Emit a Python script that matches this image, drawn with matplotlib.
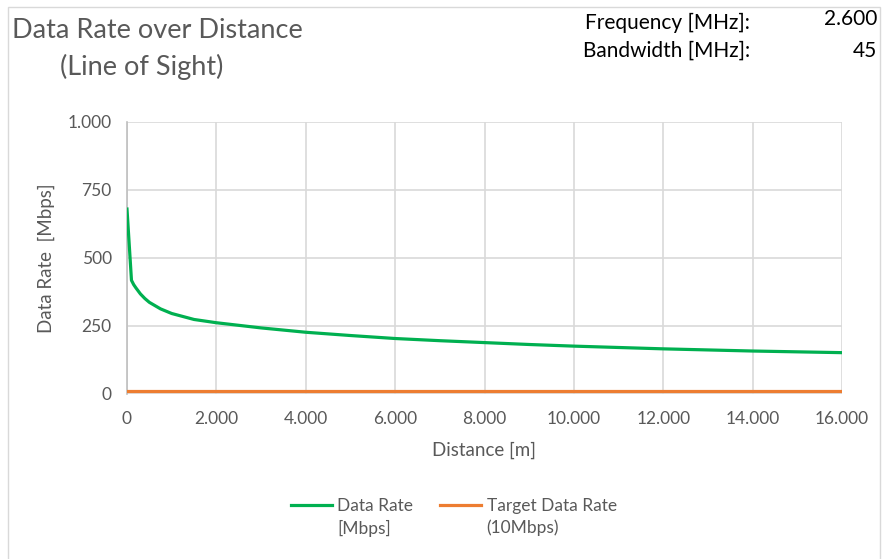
import matplotlib
matplotlib.use("Agg")
import matplotlib.pyplot as plt
from matplotlib.patches import Rectangle
from matplotlib.lines import Line2D
from matplotlib.ticker import FuncFormatter

plt.rcParams['font.family'] = ['Lato', 'DejaVu Sans']

# Data rate over distance (line of sight)
distance_m = [0, 100, 150, 200, 300, 400, 500, 750, 1000, 1500, 2000, 3000,
              4000, 5000, 6000, 7000, 8000, 9000, 10000, 11000, 12000, 13000,
              14000, 15000, 16000]
data_rate_mbps = [680, 418, 402, 390, 368, 351, 337, 313, 296, 274, 262, 243,
                  227, 215, 204, 196, 189, 182, 176, 171, 166, 162, 158, 155,
                  152]
target_rate_mbps = [10] * len(distance_m)

x_ticks = [0, 2000, 4000, 6000, 8000, 10000, 12000, 14000, 16000]
y_ticks = [0, 250, 500, 750, 1000]

series_names = [("Data Rate", "[Mbps]"), ("Target Data Rate", "(10Mbps)")]

frequency_mhz = "2.600"
bandwidth_mhz = "45"

TEXT = "#595959"
GRID = "#d9d9d9"
GREEN = "#00b050"
ORANGE = "#ed7d31"

W, H = 883, 559
fig = plt.figure(figsize=(W / 100, H / 100), dpi=100)
fig.patch.set_facecolor("white")

# chart area border
fig.patches.append(Rectangle((8 / W, -0.01), (880 - 8) / W, 1 - 7 / H + 0.01,
                             transform=fig.transFigure, fill=False,
                             edgecolor="#d9d9d9", linewidth=1.0))

ax = fig.add_axes([127 / W, 1 - 394 / H, (842 - 127) / W, (394 - 122) / H])

ax.plot(distance_m, data_rate_mbps, color=GREEN, linewidth=2.3, zorder=3)
ax.plot(distance_m, target_rate_mbps, color=ORANGE, linewidth=2.3, zorder=3)

ax.set_xlim(0, 16000)
ax.set_ylim(0, 1000)
ax.set_xticks(x_ticks)
ax.set_yticks(y_ticks)

def thousands(v, pos):
    return f"{int(v):,}".replace(",", ".")

ax.xaxis.set_major_formatter(FuncFormatter(thousands))
ax.yaxis.set_major_formatter(FuncFormatter(thousands))

ax.grid(True, color=GRID, linewidth=1.2, zorder=0)
for side in ["top", "right", "bottom"]:
    ax.spines[side].set_visible(False)
ax.spines["left"].set_color("#bfbfbf")
ax.spines["left"].set_linewidth(1.2)
ax.tick_params(axis="both", length=0, colors=TEXT, labelsize=12.5)
ax.tick_params(axis="x", pad=12.5)
ax.tick_params(axis="y", pad=11)

ax.set_xlabel("Distance [m]", color=TEXT, fontsize=13.5, labelpad=10)
ax.set_ylabel("Data Rate  [Mbps]", color=TEXT, fontsize=13.5, labelpad=9)

# title
fig.text(157 / W, 1 - 30 / H, "Data Rate over Distance", color=TEXT,
         fontsize=19.5, ha="center", va="center")
fig.text(142 / W, 1 - 67 / H, "(Line of Sight)", color=TEXT,
         fontsize=19.5, ha="center", va="center")

# parameter box
fig.text(750 / W, 1 - 23 / H, "Frequency [MHz]:", color="black",
         fontsize=15, ha="right", va="center")
fig.text(877 / W, 1 - 19 / H, frequency_mhz, color="black",
         fontsize=15, ha="right", va="center")
fig.text(750 / W, 1 - 51 / H, "Bandwidth [MHz]:", color="black",
         fontsize=15, ha="right", va="center")
fig.text(877 / W, 1 - 51 / H, bandwidth_mhz, color="black",
         fontsize=15, ha="right", va="center")

# legend: handle sits on the first line of each two-line entry
handles = [Line2D([], [], color=GREEN, linewidth=2.3),
           Line2D([], [], color=ORANGE, linewidth=2.3)]
leg = fig.legend(handles, [n[0] for n in series_names], loc="center",
                 bbox_to_anchor=(454 / W, 1 - 506 / H), ncol=2,
                 frameon=False, fontsize=12.5, handlelength=2.36,
                 handletextpad=0.3, columnspacing=1.55, labelcolor=TEXT)
fig.canvas.draw()
for txt, (_, second) in zip(leg.get_texts(), series_names):
    bb = txt.get_window_extent()
    fig.text(bb.x0 / W, (bb.y0 + bb.y1) / 2 / H - 22 / H, second,
             color=TEXT, fontsize=12.5, ha="left", va="center")

fig.savefig("out.png", dpi=100, facecolor="white")
